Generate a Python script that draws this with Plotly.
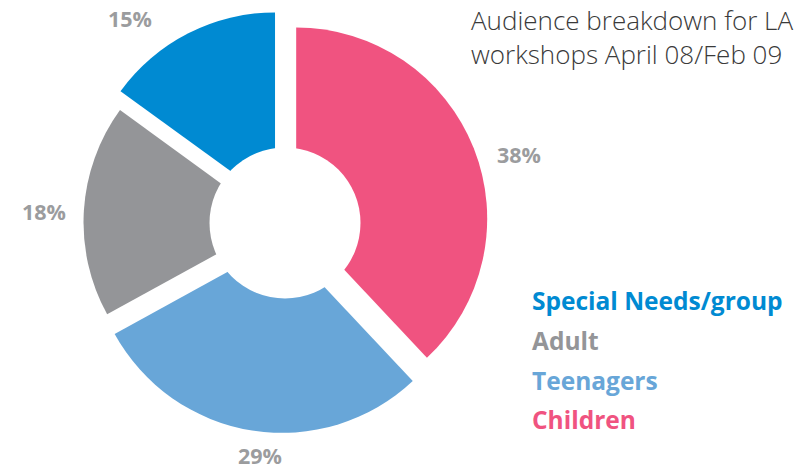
import plotly.graph_objects as go

# ---- data ----
categories = ["Children", "Teenagers", "Adult", "Special Needs/group"]
shares = [38, 29, 18, 15]
title_lines = ["Audience breakdown for LA", "workshops April 08/Feb 09"]

# ---- styling ----
colors = ["#F05380", "#68A6D8", "#949598", "#008AD2"]
pulls = [0.063, 0.10, 0.055, 0.115]
W, H = 798, 468
CX, CY = 285, 223           # pie centre in px (from top-left)
R = 191                     # slice radius in px
HOLE_R = 75.5
LABEL_GRAY = "#9B9C9E"
FONT = "Open Sans"

half = R * (1 + max(pulls))
cy_b = H - CY
fig = go.Figure()
fig.add_trace(go.Pie(
    labels=categories, values=shares, sort=False, direction="clockwise",
    rotation=0, pull=pulls, textinfo="none", hoverinfo="label+percent",
    marker=dict(colors=colors, line=dict(width=0)),
    domain=dict(x=[(CX - half) / W, (CX + half) / W], y=[(cy_b - half) / H, (cy_b + half) / H]),
    showlegend=False,
))
# white centre circle (the doughnut hole)
fig.add_trace(go.Pie(
    labels=[""], values=[1], sort=False, textinfo="none", hoverinfo="skip",
    marker=dict(colors=["#FFFFFF"], line=dict(width=0)),
    domain=dict(x=[(CX - HOLE_R) / W, (CX + HOLE_R) / W], y=[(cy_b - HOLE_R) / H, (cy_b + HOLE_R) / H]),
    showlegend=False,
))

# percentage labels (px centres)
label_pos = {"Children": (519, 155), "Teenagers": (260, 455), "Adult": (44, 212), "Special Needs/group": (130, 19)}
annotations = []
for cat, v in zip(categories, shares):
    x, y = label_pos[cat]
    annotations.append(dict(
        text=f"{v}%", x=x / W, y=1 - y / H, xref="paper", yref="paper",
        xanchor="center", yanchor="middle", showarrow=False,
        font=dict(family=FONT, size=21.5, color=LABEL_GRAY, weight="bold"),
    ))

# legend as coloured text
legend_y = [300, 340, 380, 419]
for i, (cat, col) in enumerate(zip(categories[::-1], colors[::-1])):
    annotations.append(dict(
        text=cat, x=530 / W, y=1 - legend_y[i] / H, xref="paper", yref="paper",
        xanchor="left", yanchor="middle", showarrow=False,
        font=dict(family=FONT, size=24.5, color=col, weight="bold"),
    ))

# title
annotations.append(dict(
    text="<br>".join(title_lines), x=469 / W, y=1 - 0 / H, xref="paper", yref="paper",
    xanchor="left", yanchor="top", align="left", showarrow=False,
    font=dict(family=FONT, size=26, color="#3A3A3A", weight=300),
))

fig.update_layout(
    width=W, height=H, margin=dict(l=0, r=0, t=0, b=0),
    paper_bgcolor="white", plot_bgcolor="white",
    annotations=annotations,
)
fig.write_html("out.html")
